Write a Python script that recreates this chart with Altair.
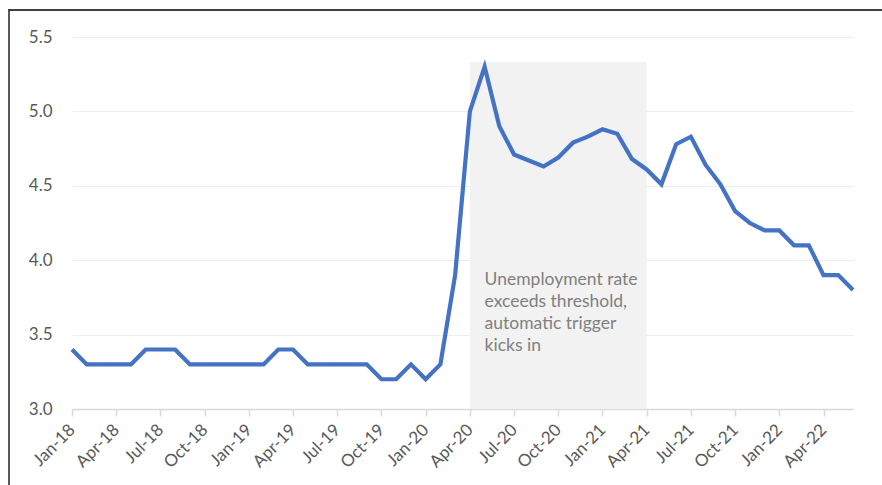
import altair as alt
import pandas as pd

# Monthly unemployment rate, Jan-18 .. Jun-22 (month index 0..53)
rate = [
    3.4, 3.3, 3.3, 3.3, 3.3, 3.4, 3.4, 3.4, 3.3, 3.3, 3.3, 3.3,   # 2018
    3.3, 3.3, 3.4, 3.4, 3.3, 3.3, 3.3, 3.3, 3.3, 3.2, 3.2, 3.3,   # 2019
    3.2, 3.3, 3.9, 5.0, 5.3, 4.9, 4.71, 4.67, 4.63, 4.69, 4.79, 4.83,  # 2020
    4.88, 4.85, 4.68, 4.61, 4.51, 4.78, 4.83, 4.64, 4.51, 4.33, 4.25, 4.2,  # 2021
    4.2, 4.1, 4.1, 3.9, 3.9, 3.8,                                   # 2022
]
tick_labels = ["Jan-18", "Apr-18", "Jul-18", "Oct-18",
               "Jan-19", "Apr-19", "Jul-19", "Oct-19",
               "Jan-20", "Apr-20", "Jul-20", "Oct-20",
               "Jan-21", "Apr-21", "Jul-21", "Oct-21",
               "Jan-22", "Apr-22"]
tick_months = [3 * i for i in range(len(tick_labels))]
y_ticks = [3.0, 3.5, 4.0, 4.5, 5.0, 5.5]

shade_start = [27]     # Apr-20
shade_end = [39]       # Apr-21
shade_low = [3.0]
shade_high = [5.33]

note_lines = "Unemployment rate\nexceeds threshold,\nautomatic trigger\nkicks in"
note_month = [28]
note_value = [3.83]

df = pd.DataFrame({"m": list(range(len(rate))), "rate": rate})
shade = pd.DataFrame({"s": shade_start, "e": shade_end, "lo": shade_low, "hi": shade_high})
note = pd.DataFrame({"m": note_month, "v": note_value, "t": [note_lines]})

label_expr = "[" + ",".join("'%s'" % l for l in tick_labels) + "][round(datum.value/3)]"

xscale = alt.Scale(domain=[0, len(rate) - 1], nice=False, zero=False)
yscale = alt.Scale(domain=[3.0, 5.5], nice=False, zero=False)

x_axis = alt.Axis(values=tick_months, labelExpr=label_expr, title=None, grid=False,
                  domainColor="#d9d9d9", domainWidth=1.5, tickColor="#d9d9d9",
                  tickSize=7, tickWidth=1.5, labelAngle=-45, labelAlign="right",
                  labelBaseline="middle", labelPadding=11, labelFont="Lato",
                  labelFontSize=17, labelColor="#595959", labelOverlap=False)
y_axis = alt.Axis(values=y_ticks, format=".1f", title=None, domain=False, ticks=False,
                  gridColor="#eeeeee", gridWidth=1.2, labelPadding=20,
                  labelFont="Lato", labelFontSize=17, labelColor="#595959")

rect = alt.Chart(shade).mark_rect(color="#f2f2f2").encode(
    x=alt.X("s:Q", scale=xscale, axis=x_axis),
    x2="e:Q",
    y=alt.Y("lo:Q", scale=yscale, axis=y_axis),
    y2="hi:Q",
)

line = alt.Chart(df).mark_line(color="#4472c4", strokeWidth=4.2).encode(
    x=alt.X("m:Q", scale=xscale),
    y=alt.Y("rate:Q", scale=yscale),
)

text = alt.Chart(note).mark_text(align="left", baseline="alphabetic", lineBreak="\n",
                                 lineHeight=21.7, font="Lato", fontSize=17.5,
                                 color="#808080").encode(
    x=alt.X("m:Q", scale=xscale),
    y=alt.Y("v:Q", scale=yscale),
    text="t:N",
)

top_border = alt.Chart(note).mark_rule(color="#404040", strokeWidth=2).encode(
    x=alt.value(-63), x2=alt.value(900), y=alt.value(-27))
left_border = alt.Chart(note).mark_rule(color="#202020", strokeWidth=1.5).encode(
    x=alt.value(-63), y=alt.value(-28), y2=alt.value(500))

chart = alt.layer(rect, line, text, top_border, left_border).properties(
    width=781, height=372,
    autosize=alt.AutoSizeParams(type="none"),
    padding={"left": 72, "top": 37, "right": 29, "bottom": 76},
    background="white",
).configure_view(stroke=None)

chart.save("out.html", embed_options={"renderer": "svg", "actions": False})
